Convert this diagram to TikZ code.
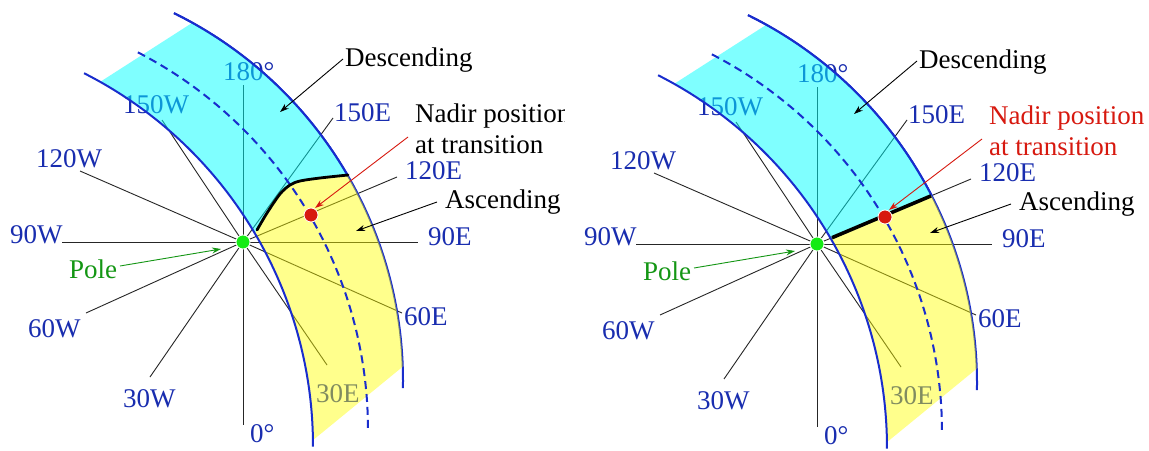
\documentclass[tikz,border=0pt]{standalone}
\usepackage{fontspec}
\setmainfont{Liberation Serif}
\usetikzlibrary{arrows.meta,calc}
\definecolor{lblblue}{RGB}{25,45,175}
\definecolor{lineblue}{RGB}{25,45,205}
\definecolor{cyanf}{RGB}{0,255,255}
\definecolor{yelf}{RGB}{255,255,0}
\definecolor{poleg}{RGB}{20,150,20}
\definecolor{dotg}{RGB}{20,235,20}
\definecolor{nred}{RGB}{215,25,15}
\tikzset{
 spoke/.style={line width=0.9pt, black!85},
 lbl/.style={font=\fontsize{27}{30}\selectfont, text=lblblue, inner sep=0pt, anchor=base west},
 txt/.style={font=\fontsize{27}{30}\selectfont, inner sep=0pt, anchor=base west},
 bandline/.style={line width=2pt, lineblue},
 dashline/.style={line width=2pt, lineblue, dash pattern=on 8pt off 5pt},
 ptr/.style={line width=0.9pt, -{Stealth[length=9pt,width=6pt]}},
 dotstyle/.style={circle, draw=white, line width=0.8pt, minimum size=14pt, inner sep=0pt},
 cyanfill/.style={fill=cyanf, fill opacity=0.5},
 yelfill/.style={fill=yelf, fill opacity=0.45},
}
\newcommand\panelunder{%
 \coordinate (P) at (243,242);
 \coordinate (C1) at (-7,381);
 \coordinate (C2) at (-105,446);
 \coordinate (C3) at (-57,430);
 \foreach \n/\x/\y in {a/243/85, b/162/120, c/80/171, d/62/242, e/86/313, f/150/377, g/243/425, h/327/365, i/402/313, j/418/242, k/397/177, l/333/118}{%
   \coordinate (s\n) at (\x,\y);
   \draw[spoke] (P) -- (s\n);}
 \node[lbl] (l180) at (223,80) {180°};
 \node[lbl] (l150w) at (123,113) {150W};
 \node[lbl] (l150e) at (334,121) {150E};
 \node[lbl] (l120e) at (405,179) {120E};
 \node[lbl] (l90e) at (428,245) {90E};
 \node[lbl] (l60e) at (404,325) {60E};
 \node[lbl] (l30e) at (316,402) {30E};
 \node[lbl] (l0) at (250,442) {0°};
 \node[lbl] (l30w) at (123,407) {30W};
 \node[lbl] (l60w) at (28,337) {60W};
 \node[lbl] (l90w) at (10,243) {90W};
 \node[lbl] (l120w) at (36,167) {120W};
 \draw[bandline] (C1) ++(-63.8:410) arc[start angle=-63.8, end angle=1, radius=410];
}
\newcommand\bandfill[1]{%
 \fill[#1] (C2) ++(-60.6:418) arc[start angle=-60.6, end angle=-0.8, radius=418]
   -- (402.7,366.7) arc[start angle=-2, end angle=-60.9, radius=410] -- cycle;}
\newcommand\outerline{\draw[bandline] (C1) ++(-63.8:410) arc[start angle=-63.8, end angle=1, radius=410];}
\newcommand\panelover[1]{%
 \draw[bandline] (C2) ++(-63.1:418) arc[start angle=-63.1, end angle=0.1, radius=418];
 \draw[dashline] (C3) ++(-62.7:425) arc[start angle=-62.7, end angle=-0.2, radius=425];
}
\newcommand\paneltexts[1]{%
 \node[dotstyle, fill=nred] (nadir) at (311,215) {};
 \node[dotstyle, fill=dotg] (pole) at (243,242) {};
 \node[txt] (desc) at (345,66) {Descending};
 \coordinate (descA) at (343,59); \coordinate (descB) at (280,112);
 \draw[ptr] (descA) -- (descB);
 \node[txt, text=#1] (nad1) at (415,122) {Nadir position};
 \node[txt, text=#1] (nad2) at (415,153) {at transition};
 \coordinate (nadA) at (408,137); \coordinate (nadB) at (315,208);
 \draw[ptr, nred] (nadA) -- (nadB);
 \node[txt] (asc) at (445,208) {Ascending};
 \coordinate (ascA) at (437,202); \coordinate (ascB) at (356,231);
 \draw[ptr] (ascA) -- (ascB);
 \node[txt, text=poleg] (polet) at (69,278) {Pole};
 \coordinate (poleA) at (120,266); \coordinate (poleB) at (221,249);
 \draw[ptr, poleg] (poleA) -- (poleB);
}
\begin{document}
\begin{tikzpicture}[x=1pt, y=-1pt]
\useasboundingbox[fill=white] (0,0) rectangle (1149,450);
% ---------------- left panel ----------------
\begin{scope}
 \clip (0,0) rectangle (564,450);
 \panelunder
 \begin{scope}
  \clip (-60,-60) -- (650,-60) -- (650,170) -- plot[smooth] coordinates {(348,175) (320,178) (300,181) (290,185) (280,194) (267,213) (257,230)} -- (200,300) -- (-60,300) -- cycle;
  \bandfill{cyanfill}
  \outerline
 \end{scope}
 \begin{scope}
  \clip (650,170) -- plot[smooth] coordinates {(348,175) (320,178) (300,181) (290,185) (280,194) (267,213) (257,230)} -- (200,300) -- (200,500) -- (650,500) -- cycle;
  \bandfill{yelfill}
 \end{scope}
 \panelover{}
 \draw[line width=2.8pt, black, line cap=round] plot[smooth] coordinates {(257,230) (267,213) (280,194) (290,185) (300,181) (320,178) (348,175)};
 \paneltexts{black}
\end{scope}
% ---------------- right panel ----------------
\begin{scope}[shift={(574,2)}]
 \panelunder
 \begin{scope}
  \clip (-60,-60) -- (650,-60) -- (650,144.5) -- (474,144.5) -- (196.8,261.5) -- (-60,261.5) -- cycle;
  \bandfill{cyanfill}
  \outerline
 \end{scope}
 \begin{scope}
  \clip (650,144.5) -- (474,144.5) -- (196.8,261.5) -- (196.8,500) -- (650,500) -- cycle;
  \bandfill{yelfill}
 \end{scope}
 \panelover{}
 \coordinate (bA) at (258,235.7); \coordinate (bB) at (357,193.9);
 \draw[line width=3.6pt, black] (bA) -- (bB);
 \paneltexts{nred}
\end{scope}
\end{tikzpicture}
\end{document}
